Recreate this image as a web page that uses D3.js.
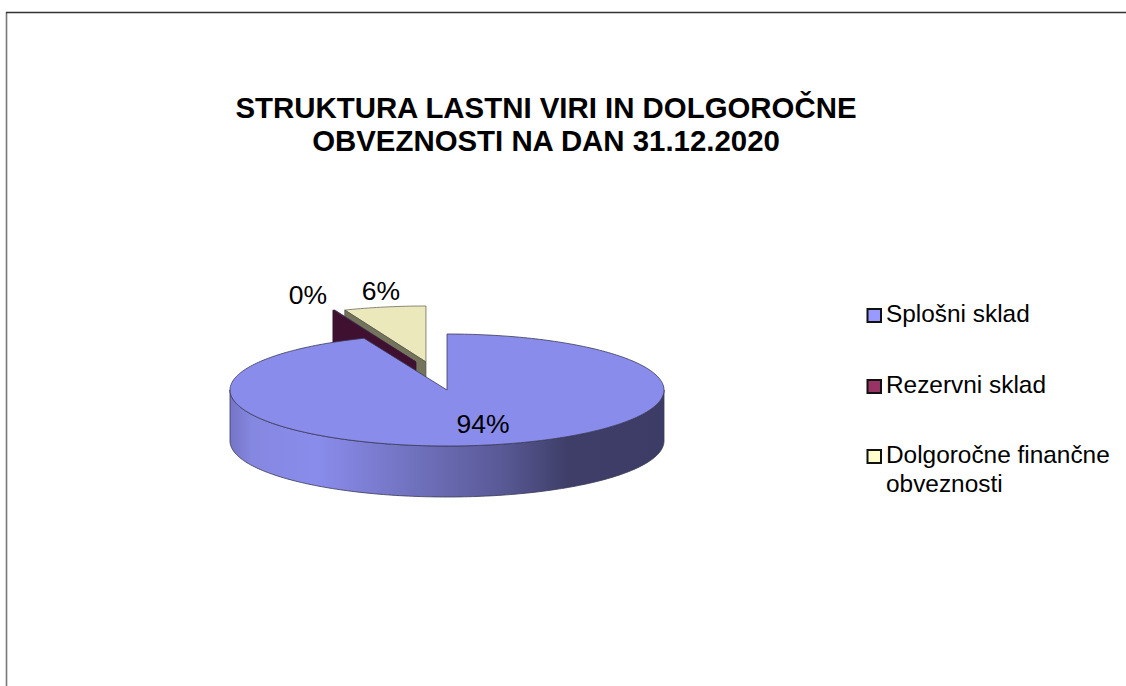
<!DOCTYPE html>
<html>
<head>
<meta charset="utf-8">
<script src="https://cdn.jsdelivr.net/npm/d3@7"></script>
<style>
  html, body { margin: 0; padding: 0; background: #fff; overflow: hidden; }
  text { font-family: "Liberation Sans", Arial, sans-serif; fill: #000; }
</style>
</head>
<body>
<svg id="chart" width="1126" height="686"></svg>
<script>
var titleLines = ["STRUKTURA LASTNI VIRI IN DOLGOROČNE", "OBVEZNOSTI NA DAN 31.12.2020"];
var categories = ["Splošni sklad", "Rezervni sklad", "Dolgoročne finančne obveznosti"];
var shares = [0.9375, 0.0015, 0.061];

var svg = d3.select("#chart");
var defs = svg.append("defs");

// frame, the right and bottom sides fall outside the picture
svg.append("line").attr("x1", 6.5).attr("x2", 6.5).attr("y1", 12).attr("y2", 686)
  .attr("stroke", "#777").attr("stroke-width", 1.6);
svg.append("line").attr("x1", 6).attr("x2", 1126).attr("y1", 12.5).attr("y2", 12.5)
  .attr("stroke", "#333").attr("stroke-width", 1.3);

// title
svg.append("text").attr("text-anchor", "middle").attr("font-weight", "bold").attr("font-size", 29.4)
  .selectAll("tspan").data(titleLines).join("tspan")
  .attr("x", 546).attr("y", function(d, i){ return 118 + i*33; })
  .text(function(d){ return d; });

/******************************************************************************/
// pie geometry: unit circle squashed to an ellipse

var cx = 447, cy = 390, rx = 217, ry = 56, depth = 51;
var xScale = d3.scaleLinear().domain([-1, 1]).range([cx - rx, cx + rx]);
var yScale = d3.scaleLinear().domain([-1, 1]).range([cy + ry, cy - ry]);

var arcs = d3.pie().sort(null)(shares);

// how far each slice is pulled out of the pie, in unit circle terms
var pulled = [[0, 0], [-0.143, 0.5], [-0.097, 0.5]];

function rimPoints(a0, a1, off){
  var n = Math.max(2, Math.ceil((a1 - a0)/0.02));
  return d3.range(n + 1).map(function(i){
    var a = a0 + (a1 - a0)*i/n;
    return [xScale(Math.sin(a) + off[0]), yScale(Math.cos(a) + off[1])];
  });
}
var line = d3.line();

// top face of a slice
function topPath(arc, off){
  var apex = [xScale(off[0]), yScale(off[1])];
  return line([apex].concat(rimPoints(arc.startAngle, arc.endAngle, off))) + "Z";
}
// flat face along the slice's start edge
function cutPath(arc, off){
  var apex = [xScale(off[0]), yScale(off[1])];
  var rim = rimPoints(arc.startAngle, arc.startAngle, off)[0];
  return line([rim, apex, [apex[0], apex[1] + depth], [rim[0], rim[1] + depth]]) + "Z";
}
// outer wall, front half only
function wallPath(arc, off){
  var a0 = Math.max(arc.startAngle, Math.PI/2), a1 = Math.min(arc.endAngle, 3*Math.PI/2);
  var rim = rimPoints(a0, a1, off);
  var low = rim.map(function(p){ return [p[0], p[1] + depth]; }).reverse();
  return line(rim.concat(low)) + "Z";
}

var sideStops = [[0, "#7475c6"], [0.05, "#8587e0"], [0.2, "#8a8cec"], [0.45, "#6d6eb8"], [0.62, "#5a5a98"], [0.78, "#3e3e68"], [1, "#3c3c66"]];
var grad = defs.append("linearGradient").attr("id", "wall")
  .attr("gradientUnits", "userSpaceOnUse")
  .attr("x1", xScale(-1)).attr("x2", xScale(1)).attr("y1", 0).attr("y2", 0);
grad.selectAll("stop").data(sideStops).join("stop")
  .attr("offset", function(d){ return d[0]; })
  .attr("stop-color", function(d){ return d[1]; });

var edge = "#3a3a55";
var pie = svg.append("g").attr("stroke", edge).attr("stroke-width", 0.8).attr("stroke-linejoin", "round");

// painted back to front: yellow, red, then the big slice over both
pie.append("path").attr("d", topPath(arcs[2], pulled[2])).attr("fill", "#ebe9bb").attr("stroke", "#6c6c5a");
pie.append("path").attr("d", cutPath(arcs[2], pulled[2])).attr("fill", "#74745c").attr("stroke", "#55554a");
pie.append("path").attr("d", topPath(arcs[1], pulled[1])).attr("fill", "#3f0f32");
pie.append("path").attr("d", cutPath(arcs[1], pulled[1])).attr("fill", "#3f1030").attr("stroke", "#3f1030");
pie.append("path").attr("d", wallPath(arcs[0], pulled[0])).attr("fill", "url(#wall)");
pie.append("path").attr("d", topPath(arcs[0], pulled[0])).attr("fill", "#8a8cec");

// percent labels
var pct = d3.format(".0%");
var labelSpots = [[483, 433], [308, 304], [381, 300]];
svg.append("g").attr("font-size", 26.5).attr("text-anchor", "middle")
  .selectAll("text").data(shares).join("text")
  .attr("x", function(d, i){ return labelSpots[i][0]; })
  .attr("y", function(d, i){ return labelSpots[i][1]; })
  .text(function(d){ return pct(d); });

// legend
var swatchFill = ["#9999ff", "#993366", "#ffffcc"];
var legendRows = [[categories[0]], [categories[1]], ["Dolgoročne finančne", "obveznosti"]];
var legendY = [322, 393, 463];
var legend = svg.append("g").selectAll("g").data(legendRows).join("g");
legend.append("rect").attr("x", 867.5).attr("y", function(d, i){ return legendY[i] - 13; })
  .attr("width", 13.5).attr("height", 13)
  .attr("fill", function(d, i){ return swatchFill[i]; })
  .attr("stroke", "#111").attr("stroke-width", 2);
legend.append("text").attr("font-size", 24.4)
  .selectAll("tspan").data(function(d, i){ return d.map(function(t){ return [t, i]; }); }).join("tspan")
  .attr("x", 886).attr("y", function(d, j){ return legendY[d[1]] + j*28.5; })
  .text(function(d){ return d[0]; });
</script>
</body>
</html>
